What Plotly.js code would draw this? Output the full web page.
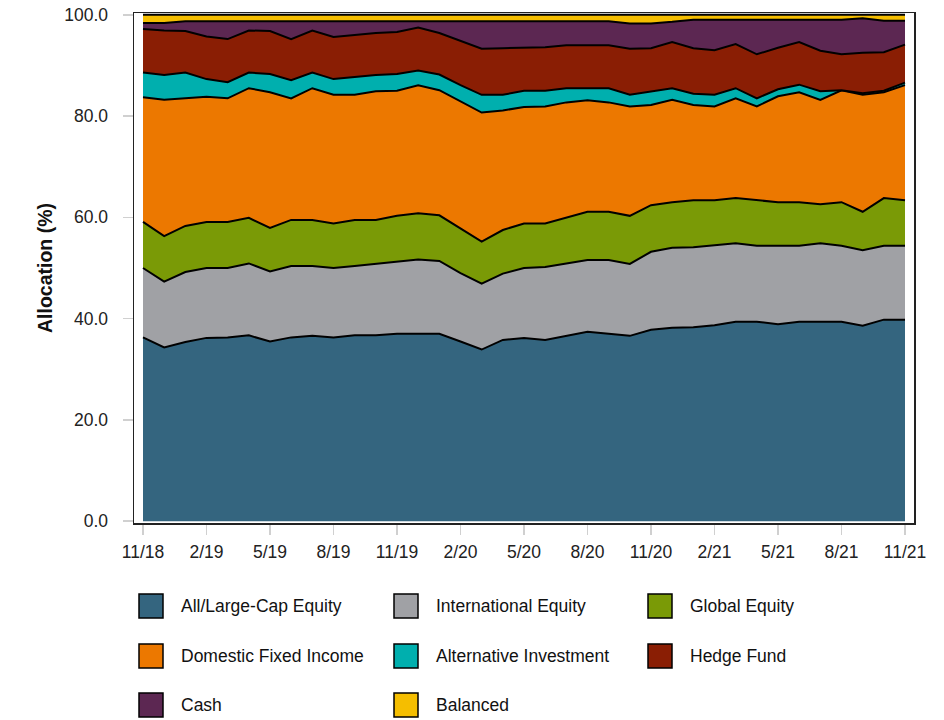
<!DOCTYPE html>
<html><head><meta charset="utf-8">
<script src="https://cdn.plot.ly/plotly-3.0.1.min.js"></script>
<style>html,body{margin:0;padding:0;background:#fff;}#chart{width:944px;height:720px;}</style>
</head><body><div id="chart"></div>
<script>
// Months (x categories)
const months = ["11/18","12/18","1/19","2/19","3/19","4/19","5/19","6/19","7/19","8/19","9/19","10/19",
  "11/19","12/19","1/20","2/20","3/20","4/20","5/20","6/20","7/20","8/20","9/20","10/20",
  "11/20","12/20","1/21","2/21","3/21","4/21","5/21","6/21","7/21","8/21","9/21","10/21","11/21"];

const seriesNames = ["All/Large-Cap Equity","International Equity","Global Equity",
  "Domestic Fixed Income","Alternative Investment","Hedge Fund","Cash","Balanced"];
const seriesColors = ["#34657F","#A0A1A5","#7A9A06","#EC7800","#00AFAE","#8A1E04","#5C2752","#F5BE00"];

// Allocation (%) per month
const allLargeCap = [36.3,34.3,35.4,36.2,36.3,36.7,35.5,36.3,36.6,36.3,36.7,36.7,
  37.0,37.0,37.0,35.5,33.9,35.8,36.2,35.8,36.6,37.4,37.0,36.6,
  37.8,38.2,38.3,38.7,39.4,39.4,38.9,39.4,39.4,39.4,38.6,39.8,39.8];
const internationalEq = [13.7,13.0,13.8,13.8,13.7,14.2,13.8,14.1,13.8,13.7,13.7,14.1,
  14.2,14.7,14.4,13.5,13.0,13.1,13.8,14.4,14.3,14.2,14.6,14.2,
  15.4,15.8,15.8,15.8,15.5,15.0,15.5,15.0,15.5,15.0,14.9,14.6,14.6];
const globalEq = [9.1,9.0,9.1,9.1,9.1,9.0,8.6,9.1,9.1,8.8,9.1,8.7,
  9.1,9.1,9.0,8.8,8.3,8.6,8.8,8.6,9.0,9.5,9.5,9.5,
  9.2,9.0,9.3,8.9,8.9,9.0,8.6,8.6,7.7,8.6,7.6,9.4,9.0];
const domesticFixed = [24.6,26.9,25.2,24.7,24.4,25.6,26.8,24.0,26.0,25.4,24.7,25.4,
  24.7,25.3,24.7,25.1,25.5,23.6,23.0,23.1,22.8,22.0,21.6,21.6,
  19.8,20.2,18.8,18.5,19.7,18.5,20.9,21.7,20.6,22.1,23.1,20.9,22.7];
const alternative = [4.9,4.9,5.1,3.5,3.2,3.1,3.6,3.6,3.1,3.1,3.5,3.2,
  3.3,2.9,3.1,3.2,3.5,3.1,3.2,3.1,2.8,2.4,2.8,2.3,
  2.6,2.3,2.2,2.3,2.0,1.6,1.4,1.5,1.7,0.0,0.3,0.3,0.5];
const hedgeFund = [8.6,8.8,8.2,8.4,8.5,8.3,8.5,8.1,8.3,8.3,8.3,8.3,
  8.3,8.5,8.2,8.8,9.1,9.2,8.5,8.6,8.5,8.5,8.5,9.1,
  8.6,9.1,9.0,8.8,8.7,8.7,8.2,8.4,8.0,7.1,8.0,7.6,7.5];
const cash = [1.2,1.5,1.9,3.0,3.5,1.8,1.9,3.5,1.8,3.1,2.7,2.3,
  2.1,1.2,2.3,3.8,5.4,5.3,5.2,5.1,4.7,4.7,4.7,5.0,
  4.9,4.0,5.6,6.0,4.8,6.8,5.5,4.4,6.1,6.8,6.8,6.2,4.7];
const balanced = [1.6,1.6,1.3,1.3,1.3,1.3,1.3,1.3,1.3,1.3,1.3,1.3,
  1.3,1.3,1.3,1.3,1.3,1.3,1.3,1.3,1.3,1.3,1.3,1.7,
  1.7,1.4,1.0,1.0,1.0,1.0,1.0,1.0,1.0,1.0,0.7,1.2,1.2];

const seriesValues = [allLargeCap, internationalEq, globalEq, domesticFixed,
  alternative, hedgeFund, cash, balanced];

const yTickVals = [0,20,40,60,80,100];
const xTickVals = ["11/18","2/19","5/19","8/19","11/19","2/20","5/20","8/20","11/20","2/21","5/21","8/21","11/21"];

const traces = seriesNames.map((name, i) => ({
  type: 'scatter', mode: 'lines', name: name,
  x: months, y: seriesValues[i],
  stackgroup: 'one',
  line: {color: '#000', width: 2},
  fillcolor: seriesColors[i],
  showlegend: false,
  hoverinfo: 'x+y+name'
}));

// Manual legend (3 columns)
const L = 134, W = 780, T = 13, H = 510;
const px = v => (v - L) / W;
const py = v => (T + H - v) / H;
const colSw = [139, 394, 648], colTx = [179, 434, 688], rowY = [606, 656, 705];
const FONT = '"Liberation Sans", Arial, sans-serif';
const shapes = [], annotations = [];
seriesNames.forEach((name, i) => {
  const r = Math.floor(i / 3), c = i % 3;
  shapes.push({type: 'rect', xref: 'paper', yref: 'paper',
    x0: px(colSw[c]), x1: px(colSw[c] + 24), y0: py(rowY[r] + 12), y1: py(rowY[r] - 12),
    fillcolor: seriesColors[i], line: {color: '#000', width: 1.5}});
  annotations.push({xref: 'paper', yref: 'paper', x: px(colTx[c]), y: py(rowY[r]),
    xanchor: 'left', yanchor: 'middle', showarrow: false, text: name,
    font: {family: FONT, size: 17.5, color: '#111'}});
});

const tickFont = {family: FONT, size: 17.5, color: '#222'};

const layout = {
  width: 944, height: 720,
  margin: {l: L, r: 944 - L - W, t: T, b: 720 - T - H},
  paper_bgcolor: '#fff', plot_bgcolor: '#fff',
  showlegend: false,
  xaxis: {
    type: 'category', range: [-0.425, 36.425],
    tickmode: 'array', tickvals: xTickVals, ticktext: xTickVals,
    ticks: 'outside', ticklen: 10, tickwidth: 1.5, tickcolor: '#d0d0d0',
    showgrid: false, zeroline: false,
    showline: true, mirror: true, linecolor: '#222', linewidth: 1.5,
    tickfont: tickFont, ticklabelstandoff: 2
  },
  yaxis: {
    range: [-0.35, 100.35],
    tickmode: 'array', tickvals: yTickVals, tickformat: '.1f',
    ticks: 'outside', ticklen: 10, tickwidth: 1.5, tickcolor: '#d0d0d0',
    showgrid: false, zeroline: false,
    showline: true, mirror: true, linecolor: '#222', linewidth: 1.5,
    tickfont: tickFont, ticklabelstandoff: 11,
    title: {text: 'Allocation (%)', standoff: 6,
      font: {family: FONT, size: 19.5, color: '#111', weight: 'bold'}}
  },
  shapes: shapes,
  annotations: annotations
};

Plotly.newPlot('chart', traces, layout, {displayModeBar: false, staticPlot: true});
</script>
</body></html>
